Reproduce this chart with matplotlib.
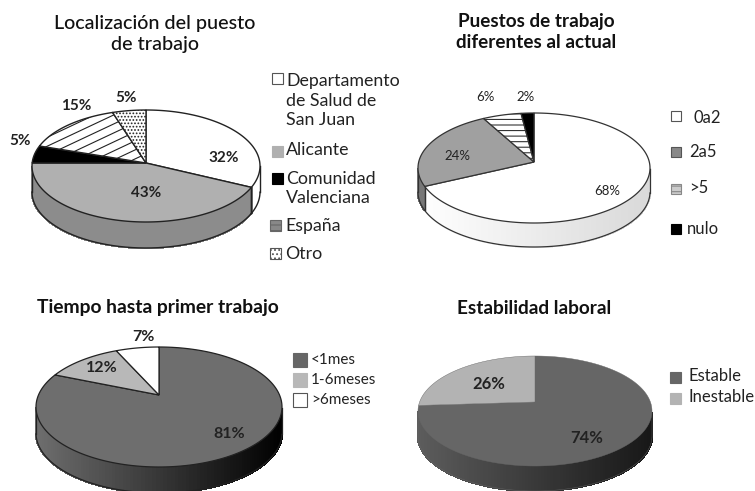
import numpy as np
import matplotlib
matplotlib.use("Agg")
import matplotlib.pyplot as plt
from matplotlib.patches import Polygon, Rectangle
from matplotlib.colors import to_rgb

plt.rcParams['font.family'] = ['Lato', 'DejaVu Sans']
plt.rcParams['hatch.linewidth'] = 0.8

# values
loc_values = [32, 43, 5, 15, 5]
loc_labels = ["Departamento\nde Salud de\nSan Juan", "Alicante", "Comunidad\nValenciana", "España", "Otro"]
puestos_values = [68, 24, 6, 2]
puestos_labels = ["0a2", "2a5", ">5", "nulo"]
tiempo_values = [81, 12, 7]
tiempo_labels = ["<1mes", "1-6meses", ">6meses"]
estab_values = [74, 26]
estab_labels = ["Estable", "Inestable"]

fig = plt.figure(figsize=(7.55, 4.91), dpi=100)
ax = fig.add_axes([0, 0, 1, 1])
ax.set_xlim(0, 755)
ax.set_ylim(491, 0)
ax.axis("off")


def rim_point(t, cx, cy, rx, ry, apex_dy):
    # ray from the apex (above ellipse centre) out to the rim, gives the perspective look
    dx = rx * np.sin(t)
    dy = -ry * np.cos(t)
    a = (dx / rx) ** 2 + (dy / ry) ** 2
    b = 2 * (-apex_dy) * dy / ry ** 2
    c = (apex_dy / ry) ** 2 - 1
    s = (-b + np.sqrt(b * b - 4 * a * c)) / (2 * a)
    return cx + s * dx, cy - apex_dy + s * dy


def pie3d(values, cx, cy, rx, ry, depth, apex_dy, tops, sides, hatches, shade, edge, lw):
    fr = np.cumsum([0] + list(values)) / sum(values) * 2 * np.pi
    apex = (cx, cy - apex_dy)
    for i in range(len(values)):
        ts = np.linspace(fr[i], fr[i + 1], 200)
        xs, ys = rim_point(ts, cx, cy, rx, ry, apex_dy)
        base = np.array(to_rgb(sides[i]))
        # side wall, small strips so it can carry the shading
        for j in range(len(ts) - 1):
            if ys[j] < cy or ys[j + 1] < cy:
                continue
            f = (xs[j] - cx + rx) / (2 * rx)
            col = np.clip(base * (shade[0] + (shade[1] - shade[0]) * f), 0, 1)
            ax.add_patch(Polygon([(xs[j], ys[j]), (xs[j + 1], ys[j + 1]),
                                  (xs[j + 1], ys[j + 1] + depth), (xs[j], ys[j] + depth)],
                                 closed=True, fc=col, ec=col, lw=1.0, antialiased=False, zorder=2))
        low = ys >= cy
        if low.any():
            ax.plot(xs[low], ys[low] + depth, color=edge, lw=lw, zorder=3)
            for k in (np.argmax(low), len(ts) - 1 - np.argmax(low[::-1])):
                ax.plot([xs[k], xs[k]], [ys[k], ys[k] + depth], color=edge, lw=lw, zorder=3)
    patches = []
    for i in range(len(values)):
        ts = np.linspace(fr[i], fr[i + 1], 200)
        xs, ys = rim_point(ts, cx, cy, rx, ry, apex_dy)
        pts = [apex] + list(zip(xs, ys))
        p = Polygon(pts, closed=True, fc=tops[i], ec=edge, lw=lw, hatch=hatches[i], zorder=4)
        ax.add_patch(p)
        patches.append(p)
    return patches


def pct(x, y, value, size=11, weight="bold"):
    ax.text(x, y, "%d%%" % value, ha="center", va="center", fontsize=size,
            fontweight=weight, color="#222222", zorder=6)


def title(x, y, txt, size, weight="medium", spacing=1.3):
    ax.text(x, y, txt, ha="center", va="center", fontsize=size, fontweight=weight,
            color="#111111", linespacing=spacing)


def swatch(x, y, s, fc, ec="#555555", hatch=None):
    ax.add_patch(Rectangle((x, y - s / 2), s, s, fc=fc, ec=ec, lw=0.8, hatch=hatch, zorder=5))


def leg(x, y, txt, size):
    ax.text(x, y, txt, ha="left", va="center", fontsize=size, color="#222222", linespacing=1.25)


# top left
title(155, 34, "Localización del puesto\nde trabajo", 14.2)
loc_p = pie3d(loc_values, 146, 166, 114, 56, 26, 3,
              ["white", "#b0b0b0", "black", "white", "white"],
              ["white", "#8c8c8c", "#8c8c8c", "#8c8c8c", "#8c8c8c"],
              [None, None, None, None, "....."], (1, 1), "#222222", 1.0)
# the 15% slice has flat diagonal stripes, the // hatch is too steep
for off in np.arange(150, 260, 9):
    ln, = ax.plot([20, 160], [off, off - 0.47 * 140], color="#222222", lw=0.8, zorder=5)
    ln.set_clip_path(loc_p[3])
pct(224, 158, loc_values[0])
pct(146, 193, loc_values[1])
pct(20, 141, loc_values[2])
pct(76, 106, loc_values[3])
pct(126, 98, loc_values[4])
swatch(272, 78, 11, "white")
leg(286, 100.5, loc_labels[0], 12.8)
swatch(272, 151, 11, "#b0b0b0", "#b0b0b0")
leg(286, 150, loc_labels[1], 12.8)
swatch(272, 178, 11, "black", "black")
leg(286, 188.5, loc_labels[2], 12.8)
swatch(270, 225, 11, "#888888", "#666666", "---")
leg(285, 226, loc_labels[3], 12.8)
swatch(270, 253, 11, "white", "#555555", "....")
leg(285, 254, loc_labels[4], 12.8)

# top right
title(536, 32, "Puestos de trabajo\ndiferentes al actual", 13.6, "bold")
pie3d(puestos_values, 534, 168, 116, 55, 24, 6,
      ["white", "#a0a0a0", "white", "black"],
      ["white", "#777777", "#777777", "black"],
      [None, None, "---", None], (1, 0.85), "#333333", 0.9)
pct(607, 191, puestos_values[0], 9.5, "normal")
pct(457, 156, puestos_values[1], 9.5, "normal")
pct(485, 97, puestos_values[2], 9.5, "normal")
pct(526, 97, puestos_values[3], 9.5, "normal")
swatch(671, 116, 10, "white")
leg(693, 118, puestos_labels[0], 12)
swatch(671, 152, 10, "#888888")
leg(689, 152, puestos_labels[1], 12)
swatch(671, 189, 10, "#cccccc", "#888888", "---")
leg(689, 188, puestos_labels[2], 12)
swatch(671, 229, 10, "black", "black")
leg(687, 229, puestos_labels[3], 12)

# bottom left
title(158, 307, "Tiempo hasta primer trabajo", 13.9, "bold")
pie3d(tiempo_values, 159, 407, 123, 60, 26, 12,
      ["#6e6e6e", "#b8b8b8", "white"],
      ["#6e6e6e", "#6e6e6e", "#6e6e6e"],
      [None, None, None], (1, 0), "#222222", 0.9)
pct(229, 434, tiempo_values[0], 11.5)
pct(102, 368, tiempo_values[1], 11.5)
pct(143, 337, tiempo_values[2], 11.5)
swatch(293, 360, 14, "#666666", "#666666")
leg(311, 360, tiempo_labels[0], 11)
swatch(293, 380, 14, "#b8b8b8", "#b8b8b8")
leg(311, 380, tiempo_labels[1], 11)
swatch(293, 400, 14, "white")
leg(311, 400, tiempo_labels[2], 11)

# bottom right
title(534, 308, "Estabilidad laboral", 13.7, "bold")
pie3d(estab_values, 535, 411, 117, 55, 25, 9,
      ["#666666", "#b3b3b3"],
      ["#5c5c5c", "#5c5c5c"],
      [None, None], (1, 0.25), "#666666", 0.3)
pct(587, 438, estab_values[0], 12)
pct(489, 384, estab_values[1], 12)
swatch(670, 377, 11, "#666666", "#666666")
leg(689, 376, estab_labels[0], 12)
swatch(670, 398, 11, "#b3b3b3", "#b3b3b3")
leg(689, 397, estab_labels[1], 12)

fig.savefig("out.png", dpi=100)
plt.close()
